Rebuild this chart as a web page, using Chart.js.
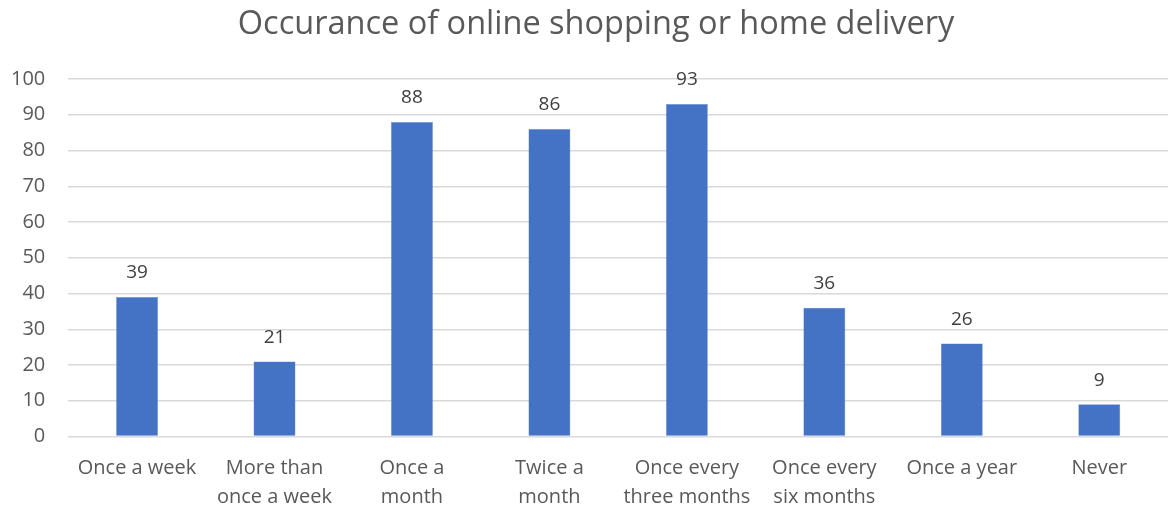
<!DOCTYPE html>
<html>
<head>
<meta charset="utf-8">
<script src="https://cdn.jsdelivr.net/npm/chart.js@4/dist/chart.umd.min.js"></script>
<style>
  html, body { margin:0; padding:0; background:#fff; }
  #wrap { width:1168px; height:508px; }
</style>
</head>
<body>
<div id="wrap"><canvas id="chart" width="1168" height="508"></canvas></div>
<script>
// frequency categories and survey counts
const categories = [
  'Once a week',
  ['More than', 'once a week'],
  ['Once a', 'month'],
  ['Twice a', 'month'],
  ['Once every', 'three months'],
  ['Once every', 'six months'],
  'Once a year',
  'Never'
];
const counts = [39, 21, 88, 86, 93, 36, 26, 9];
const yTicks = [0, 10, 20, 30, 40, 50, 60, 70, 80, 90, 100];

const FONT = '"Open Sans", "Noto Sans", sans-serif';
const TEXT = '#595959';

// value labels above each bar
const valueLabels = {
  id: 'valueLabels',
  afterDatasetsDraw(chart){
    const ctx = chart.ctx;
    const meta = chart.getDatasetMeta(0);
    ctx.save();
    ctx.font = '19px ' + FONT;
    ctx.fillStyle = '#404040';
    ctx.textAlign = 'center';
    ctx.textBaseline = 'middle';
    meta.data.forEach((bar, i) => {
      ctx.fillText(String(counts[i]), bar.x, bar.y - 24);
    });
    ctx.restore();
  }
};

// nudge the title box so the heading sits a bit right of the canvas centre
const titleShift = {
  id: 'titleShift',
  afterLayout(chart){
    if(chart.titleBlock) chart.titleBlock.left += 36;
  }
};

new Chart(document.getElementById('chart'), {
  type: 'bar',
  data: {
    labels: categories,
    datasets: [{
      data: counts,
      backgroundColor: '#4472C4',
      borderColor: '#6d90d0',
      borderWidth: 0.5,
      barPercentage: 0.305,
      categoryPercentage: 1
    }]
  },
  options: {
    responsive: false,
    animation: false,
    // the wide first category label pushes the y axis right; pull it back
    layout: { padding: { left: -12, right: 0, top: 0, bottom: 0 } },
    plugins: {
      legend: { display: false },
      tooltip: { enabled: false },
      title: {
        display: true,
        text: 'Occurance of online shopping or home delivery',
        color: TEXT,
        font: { family: FONT, size: 32.5, weight: 'normal' },
        padding: { top: 5, bottom: 35 }
      }
    },
    scales: {
      x: {
        grid: { display: false, drawTicks: false },
        border: { display: false },
        afterFit(scale){ scale.height = 71.5; },
        ticks: {
          color: TEXT,
          font: { family: FONT, size: 20, lineHeight: 1.45 },
          padding: 17,
          maxRotation: 0,
          autoSkip: false
        }
      },
      y: {
        min: 0,
        max: 100,
        afterBuildTicks(axis){ axis.ticks = yTicks.map(v => ({ value: v })); },
        grid: { color: '#d9d9d9', lineWidth: 1.5, drawTicks: false },
        border: { display: false },
        ticks: {
          color: TEXT,
          font: { family: FONT, size: 20 },
          padding: 23
        }
      }
    }
  },
  plugins: [valueLabels, titleShift]
});
</script>
</body>
</html>
